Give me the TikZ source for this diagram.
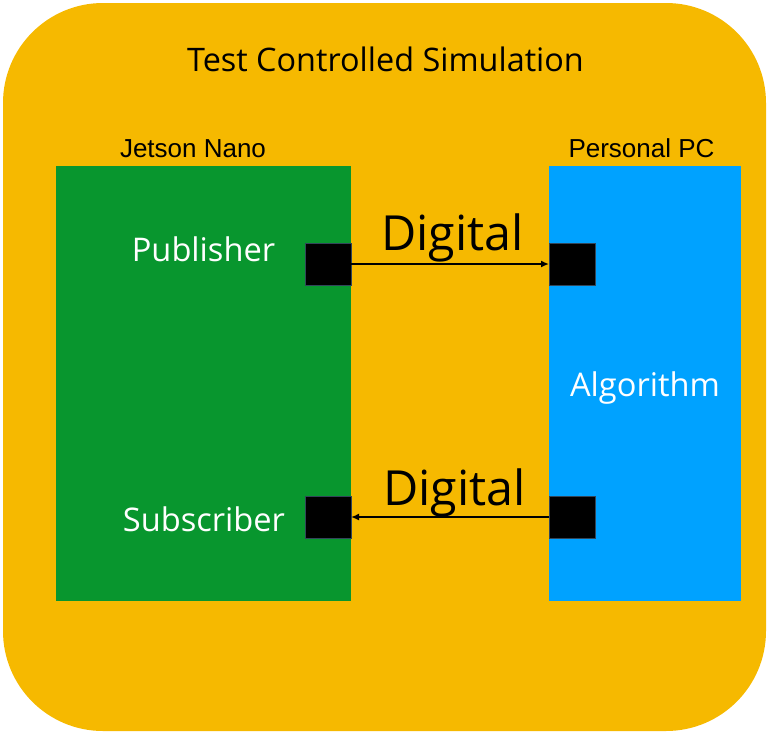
\documentclass[tikz,border=0pt]{standalone}
\usepackage{fontspec}
\setmainfont{Open Sans}
\newfontfamily\boardfont{Liberation Sans}
\usepackage{xcolor}
\usetikzlibrary{positioning}
\usetikzlibrary{arrows.meta}

\definecolor{simorange}{RGB}{246,185,0}
\definecolor{jetsongreen}{RGB}{8,150,46}
\definecolor{pcblue}{RGB}{0,162,255}
\definecolor{portedge}{RGB}{50,70,90}

\tikzset{
  panel/.style={inner sep=0pt, outer sep=0pt},
  port/.style={draw=portedge, line width=0.8pt, fill=black, minimum width=46pt, minimum height=42pt, inner sep=0pt, outer sep=0pt},
  link/.style={line width=2.4pt, -{Latex[length=8pt,width=7pt]}},
}

\begin{document}
\begin{tikzpicture}[x=1pt, y=-1pt]
\useasboundingbox (0,0) rectangle (769,734);

\node (simulation) [panel, fill=simorange, rounded corners=100pt, minimum width=763pt, minimum height=728pt] at (384.5,367) {};
\node (title) [anchor=base, font=\fontsize{32.4}{36}\selectfont] at (385.5,71) {Test Controlled Simulation};

\node (jetson) [panel, fill=jetsongreen, minimum width=295pt, minimum height=435pt] at (203.5,383.5) {};
\node (pc) [panel, fill=pcblue, minimum width=192pt, minimum height=435pt] at (645,383.5) {};

\node (jetson label) [anchor=base, font=\boardfont\fontsize{26}{30}\selectfont] at (193,157) {Jetson Nano};
\node (pc label) [anchor=base, font=\boardfont\fontsize{26}{30}\selectfont] at (641.5,157) {Personal PC};

\node (publisher) [anchor=base, text=white, font=\fontsize{32.6}{36}\selectfont] at (203.5,261) {Publisher};
\node (subscriber) [anchor=base, text=white, font=\fontsize{32.6}{36}\selectfont] at (204,531) {Subscriber};
\node (algorithm) [anchor=base, text=white, font=\fontsize{32.6}{36}\selectfont] at (645,396) {Algorithm};

\node (pub port) [port, anchor=east] at (351,264) {};
\node (pc in) [port, anchor=west] at (549,264) {};
\node (sub port) [port, anchor=east] at (351,517) {};
\node (pc out) [port, anchor=west] at (549,517) {};

\draw [link] (pub port.east) -- (pc in.west);
\draw [link] (pc out.west) -- (sub port.east);

\node (digital out) [anchor=base, font=\fontsize{48.4}{52}\selectfont] at (452.5,250) {Digital};
\node (digital in) [anchor=base, font=\fontsize{48.4}{52}\selectfont] at (454.5,505) {Digital};

\end{tikzpicture}
\end{document}
